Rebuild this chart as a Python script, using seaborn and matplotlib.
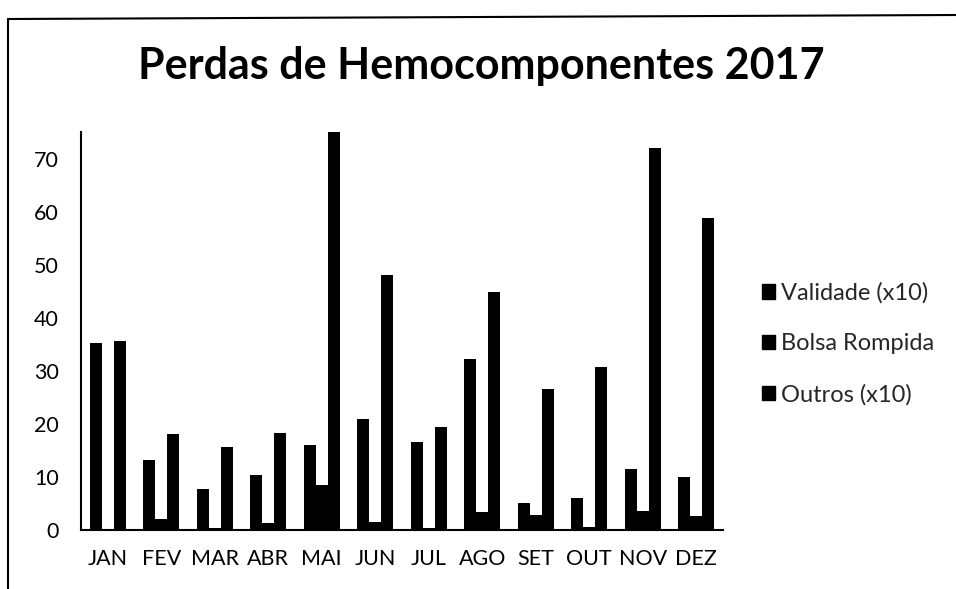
import numpy as np
import pandas as pd
import seaborn as sns
import matplotlib.pyplot as plt
from matplotlib.lines import Line2D
from matplotlib.patches import Patch

# data
months = ['JAN', 'FEV', 'MAR', 'ABR', 'MAI', 'JUN', 'JUL', 'AGO', 'SET', 'OUT', 'NOV', 'DEZ']
validade = [35.2, 13.2, 7.7, 10.4, 16.0, 20.9, 16.6, 32.3, 5.0, 6.0, 11.5, 10.0]
bolsa = [0.2, 2.1, 0.3, 1.3, 8.5, 1.5, 0.4, 3.3, 2.8, 0.5, 3.5, 2.6]
outros = [35.7, 18.1, 15.6, 18.3, 75.0, 48.1, 19.4, 44.8, 26.5, 30.8, 72.0, 58.8]
series = ['Validade (x10)', 'Bolsa Rompida', 'Outros (x10)']

df = pd.DataFrame({
    'mes': months * 3,
    'serie': [series[0]] * 12 + [series[1]] * 12 + [series[2]] * 12,
    'valor': validade + bolsa + outros,
})

sns.set_style('white')
plt.rcParams['font.family'] = ['Lato', 'DejaVu Sans']

fig = plt.figure(figsize=(9.56, 5.89), dpi=100)
ax = fig.add_axes([0.0847, 0.1002, 0.6716, 0.6757])

sns.barplot(data=df, x='mes', y='valor', hue='serie', order=months, hue_order=series,
            palette=['black'] * 3, width=0.68, saturation=1, edgecolor='black',
            linewidth=0, errorbar=None, legend=False, ax=ax)

ax.set_xlim(-0.5, 11.5)
ax.set_ylim(0, 75)
ax.set_yticks(range(0, 71, 10))
ax.set_xticks(range(12), months)
ax.set_xticks(np.arange(-0.5, 12, 1), minor=True)
ax.tick_params(axis='x', which='major', length=0, pad=14, labelsize=15.5, labelcolor='black')
ax.tick_params(axis='x', which='minor', length=8, width=1.5, direction='out', color='black')
ax.tick_params(axis='y', length=6, width=1.5, direction='out', color='black',
               pad=10, labelsize=15.5, labelcolor='black')
ax.set_xlabel('')
ax.set_ylabel('')
for side in ['top', 'right']:
    ax.spines[side].set_visible(False)
for side in ['left', 'bottom']:
    ax.spines[side].set_color('black')
    ax.spines[side].set_linewidth(1.5)

# title
fig.text(0.503, 0.888, 'Perdas de Hemocomponentes 2017', ha='center', va='center',
         fontsize=31, fontweight='bold', color='black')

# legend
handles = [Patch(facecolor='black', edgecolor='black') for _ in series]
fig.legend(handles, series, loc='center left', bbox_to_anchor=(0.797, 0.416),
           frameon=False, fontsize=17, handlelength=0.55, handleheight=0.55,
           handletextpad=0.25, labelspacing=1.25, borderpad=0, borderaxespad=0)

# chart frame (top and left edges)
fig.add_artist(Line2D([8 / 956, 8 / 956], [0, 1 - 19 / 589], color='black', lw=1.5))
fig.add_artist(Line2D([8 / 956, 1], [1 - 19 / 589, 1 - 15 / 589], color='black', lw=1.5))

fig.savefig('out.png', dpi=100)
